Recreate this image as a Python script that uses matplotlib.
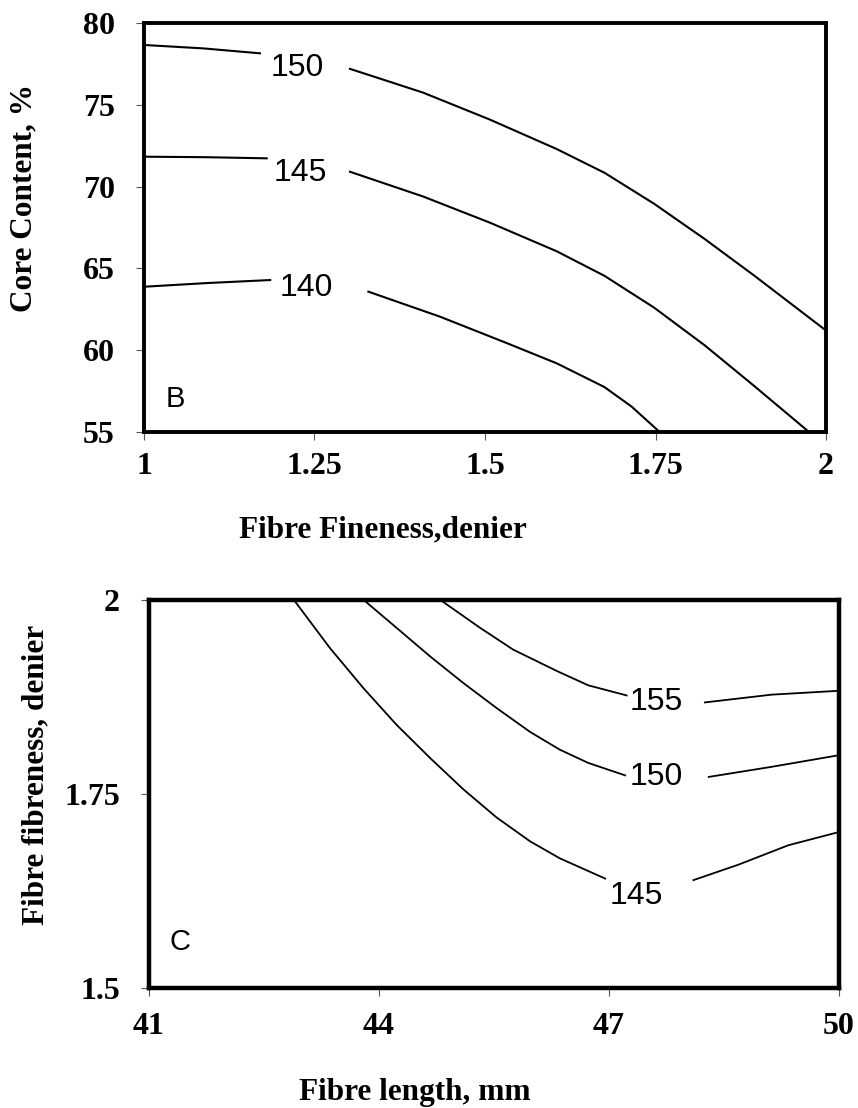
import numpy as np
import matplotlib
matplotlib.use("Agg")
import matplotlib.pyplot as plt

nan = np.nan

# ---- Panel B: core content vs fibre fineness (contour levels)
# nan marks the gap where the contour label sits
B150_X = [1.0, 1.087, 1.17, nan, 1.302, 1.409, 1.507, 1.605, 1.675, 1.748, 1.822, 1.895, 2.0]
B150_Y = [78.66, 78.45, 78.15, nan, 77.2, 75.75, 74.1, 72.3, 70.85, 68.95, 66.8, 64.55, 61.2]
B145_X = [1.0, 1.09, 1.18, nan, 1.302, 1.409, 1.507, 1.605, 1.675, 1.748, 1.822, 1.895, 1.975]
B145_Y = [71.83, 71.80, 71.73, nan, 70.91, 69.4, 67.8, 66.05, 64.55, 62.6, 60.3, 57.8, 55.0]
B140_X = [1.0, 1.09, 1.185, nan, 1.329, 1.434, 1.531, 1.605, 1.675, 1.715, 1.756]
B140_Y = [63.88, 64.10, 64.29, nan, 63.58, 62.05, 60.45, 59.2, 57.75, 56.55, 55.0]
B_LEVELS = ["150", "145", "140"]
B_LABEL_X = [1.224, 1.229, 1.238]
B_LABEL_Y = [77.23, 70.81, 63.82]

B_XTICKS = [1, 1.25, 1.5, 1.75, 2]
B_XTICKLABELS = ["1", "1.25", "1.5", "1.75", "2"]
B_YTICKS = [55, 60, 65, 70, 75, 80]

# ---- Panel C: fibre fineness vs fibre length
C145_X = [42.89, 43.36, 43.80, 44.23, 44.67, 45.10, 45.53, 45.97, 46.36, 46.95,
          nan, 48.10, 48.69, 49.34, 50.0]
C145_Y = [2.0, 1.938, 1.886, 1.839, 1.796, 1.756, 1.720, 1.689, 1.667, 1.641,
          nan, 1.639, 1.659, 1.684, 1.701]
C150_X = [43.80, 44.23, 44.67, 45.10, 45.53, 45.97, 46.36, 46.73, 47.21,
          nan, 48.30, 49.12, 50.0]
C150_Y = [2.0, 1.964, 1.927, 1.893, 1.861, 1.830, 1.807, 1.790, 1.774,
          nan, 1.772, 1.785, 1.800]
C155_X = [44.80, 45.32, 45.75, 46.33, 46.73, 47.23, nan, 48.25, 49.12, 50.0]
C155_Y = [2.0, 1.964, 1.936, 1.908, 1.890, 1.877, nan, 1.868, 1.878, 1.883]
C_LEVELS = ["155", "150", "145"]
C_LABEL_X = [47.62, 47.62, 47.36]
C_LABEL_Y = [1.869, 1.772, 1.619]

C_XTICKS = [41, 44, 47, 50]
C_YTICKS = [1.5, 1.75, 2]
C_YTICKLABELS = ["1.5", "1.75", "2"]

SERIF = "Liberation Serif"
SANS = "Liberation Sans"


def style_axes(ax, spine_w, xpad, ypad):
    for s in ax.spines.values():
        s.set_linewidth(spine_w)
        s.set_color("black")
    ax.tick_params(direction="out", length=6, width=0.8, color="#555555",
                   labelsize=23)
    ax.tick_params(axis="x", pad=xpad)
    ax.tick_params(axis="y", pad=ypad)
    for lab in ax.get_xticklabels() + ax.get_yticklabels():
        lab.set_fontfamily(SERIF)
        lab.set_fontweight("bold")


fig = plt.figure(figsize=(8.58, 11.08), dpi=100)

# Panel B
axb = fig.add_axes([0.1678, 0.6101, 0.795, 0.3691])
for xs, ys in [(B150_X, B150_Y), (B145_X, B145_Y), (B140_X, B140_Y)]:
    axb.plot(xs, ys, color="black", lw=1.5, solid_joinstyle="round")
for lab, x, y in zip(B_LEVELS, B_LABEL_X, B_LABEL_Y):
    axb.text(x, y, lab, fontsize=23, family=SANS, ha="center", va="center")
axb.text(1.046, 57.0, "B", fontsize=21, family=SANS, ha="center", va="center")
axb.set_xlim(1, 2)
axb.set_ylim(55, 80)
axb.set_xticks(B_XTICKS)
axb.set_xticklabels(B_XTICKLABELS)
axb.set_yticks(B_YTICKS)
style_axes(axb, 2.8, 8.5, 15)
axb.set_xlabel("Fibre Fineness,denier", fontsize=22.5, family=SERIF,
               fontweight="bold", va="center")
axb.xaxis.set_label_coords(0.35, -0.24)
axb.set_ylabel("Core Content, %", fontsize=22.5, family=SERIF,
               fontweight="bold", va="center", ha="center")
axb.yaxis.set_label_coords(-0.176, 0.572)

# Panel C
axc = fig.add_axes([0.1737, 0.1083, 0.8042, 0.3502])
for xs, ys in [(C155_X, C155_Y), (C150_X, C150_Y), (C145_X, C145_Y)]:
    axc.plot(xs, ys, color="black", lw=1.3, solid_joinstyle="round")
for lab, x, y in zip(C_LEVELS, C_LABEL_X, C_LABEL_Y):
    axc.text(x, y, lab, fontsize=23, family=SANS, ha="center", va="center")
axc.text(41.4, 1.559, "C", fontsize=21, family=SANS, ha="center", va="center")
axc.set_xlim(41, 50)
axc.set_ylim(1.5, 2)
axc.set_xticks(C_XTICKS)
axc.set_yticks(C_YTICKS)
axc.set_yticklabels(C_YTICKLABELS)
style_axes(axc, 3.2, 11.5, 15)
axc.set_xlabel("Fibre length, mm", fontsize=22.5, family=SERIF,
               fontweight="bold", va="center")
axc.xaxis.set_label_coords(0.385, -0.27)
axc.set_ylabel("Fibre fibreness, denier", fontsize=22.5, family=SERIF,
               fontweight="bold", va="center", ha="center")
axc.yaxis.set_label_coords(-0.164, 0.549)

fig.savefig("out.png", dpi=100)
